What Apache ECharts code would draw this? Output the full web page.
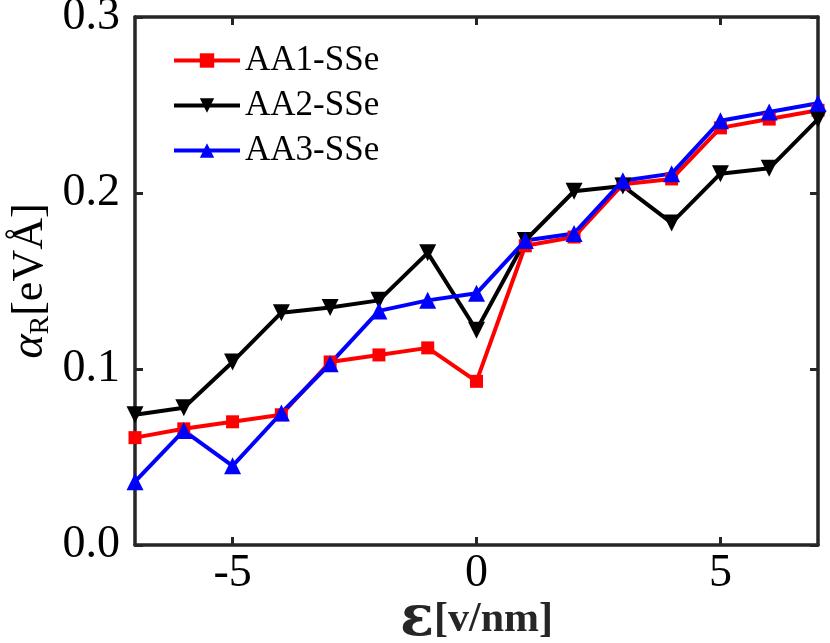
<!DOCTYPE html>
<html>
<head>
<meta charset="utf-8">
<script src="https://cdn.jsdelivr.net/npm/echarts@6/dist/echarts.min.js"></script>
<style>
  html, body { margin: 0; padding: 0; background: #fff; }
  #chart { width: 830px; height: 643px; }
</style>
</head>
<body>
<div id="chart"></div>
<script>
// electric field [v/nm]
const fieldValues = [-7, -6, -5, -4, -3, -2, -1, 0, 1, 2, 3, 4, 5, 6, 7]
// Rashba parameter alpha_R [eVÅ]
const aa1 = [0.061, 0.066, 0.070, 0.074, 0.104, 0.108, 0.112, 0.093, 0.170, 0.175, 0.205, 0.208, 0.237, 0.242, 0.247]
const aa2 = [0.074, 0.078, 0.104, 0.132, 0.135, 0.139, 0.166, 0.122, 0.173, 0.201, 0.204, 0.183, 0.211, 0.214, 0.242]
const aa3 = [0.036, 0.065, 0.045, 0.075, 0.103, 0.133, 0.139, 0.143, 0.173, 0.177, 0.207, 0.211, 0.241, 0.246, 0.251]
const seriesNames = ['AA1-SSe', 'AA2-SSe', 'AA3-SSe']
const xTicks = [-5, 0, 5]

const font = '"Liberation Serif", "Times New Roman", serif'
const axisColor = '#262626'

const chart = echarts.init(document.getElementById('chart'))

function pairs (ys) {
  return fieldValues.map((x, i) => [x, ys[i]])
}

function xAxisBase (pos) {
  return {
    type: 'value',
    position: pos,
    min: -7,
    max: 7,
    axisLine: { show: true, onZero: false, lineStyle: { color: axisColor, width: 3.5 } },
    axisTick: { show: true, inside: true, length: 8, customValues: xTicks, lineStyle: { color: axisColor, width: 3 } },
    splitLine: { show: false }
  }
}

function yAxisBase (pos) {
  return {
    type: 'value',
    position: pos,
    min: 0,
    max: 0.3,
    interval: 0.1,
    axisLine: { show: true, onZero: false, lineStyle: { color: axisColor, width: 3.5 } },
    axisTick: { show: true, inside: true, length: 8, lineStyle: { color: axisColor, width: 3 } },
    splitLine: { show: false }
  }
}

const option = {
  backgroundColor: '#fff',
  animation: false,
  grid: { left: 135, right: 12, top: 17, bottom: 98, containLabel: false, outerBoundsMode: 'none' },
  legend: {
    left: 172,
    top: 43,
    padding: 0,
    orient: 'vertical',
    itemWidth: 66,
    itemHeight: 18,
    itemGap: 10,
    selectedMode: false,
    data: seriesNames,
    lineStyle: { width: 4 },
    textStyle: { fontFamily: font, fontSize: 35, color: '#000', lineHeight: 34 }
  },
  xAxis: [
    Object.assign(xAxisBase('bottom'), {
      name: '{e|ε}{b|[v/nm]}',
      nameLocation: 'middle',
      nameGap: 50,
      nameMoveOverlap: false,
      nameTextStyle: {
        fontFamily: font,
        color: axisColor,
        rich: {
          e: { fontFamily: '"DejaVu Serif", serif', fontWeight: 'bold', fontSize: 56, color: axisColor, lineHeight: 50 },
          b: { fontFamily: font, fontWeight: 'bold', fontSize: 42, color: axisColor, lineHeight: 50 }
        }
      },
      axisLabel: {
        customValues: xTicks,
        margin: 6,
        fontFamily: font,
        fontSize: 46,
        color: '#000'
      }
    }),
    Object.assign(xAxisBase('top'), { axisLabel: { show: false } })
  ],
  yAxis: [
    Object.assign(yAxisBase('left'), {
      name: '{a|α}{s|R}{b|[eVÅ]}',
      nameLocation: 'middle',
      nameGap: 80,
      nameRotate: 90,
      nameMoveOverlap: false,
      nameTextStyle: {
        fontFamily: font,
        color: '#000',
        rich: {
          a: { fontFamily: font, fontStyle: 'italic', fontSize: 46, lineHeight: 50, color: '#000' },
          s: { fontFamily: font, fontSize: 28, lineHeight: 30, verticalAlign: 'bottom', color: '#000' },
          b: { fontFamily: font, fontSize: 44, lineHeight: 50, color: '#000' }
        }
      },
      axisLabel: {
        margin: 15,
        fontFamily: font,
        fontSize: 46,
        color: '#000',
        formatter: v => v.toFixed(1)
      }
    }),
    Object.assign(yAxisBase('right'), { axisLabel: { show: false } })
  ],
  series: [
    {
      name: seriesNames[0],
      type: 'line',
      data: pairs(aa1),
      symbol: 'rect',
      symbolSize: 13,
      lineStyle: { color: '#ff0000', width: 4 },
      itemStyle: { color: '#ff0000' }
    },
    {
      name: seriesNames[1],
      type: 'line',
      data: pairs(aa2),
      symbol: 'triangle',
      symbolRotate: 180,
      symbolSize: 17,
      lineStyle: { color: '#000000', width: 4 },
      itemStyle: { color: '#000000' }
    },
    {
      name: seriesNames[2],
      type: 'line',
      data: pairs(aa3),
      symbol: 'triangle',
      symbolSize: 17,
      lineStyle: { color: '#0000ff', width: 4 },
      itemStyle: { color: '#0000ff' }
    }
  ]
}

chart.setOption(option)
</script>
</body>
</html>
